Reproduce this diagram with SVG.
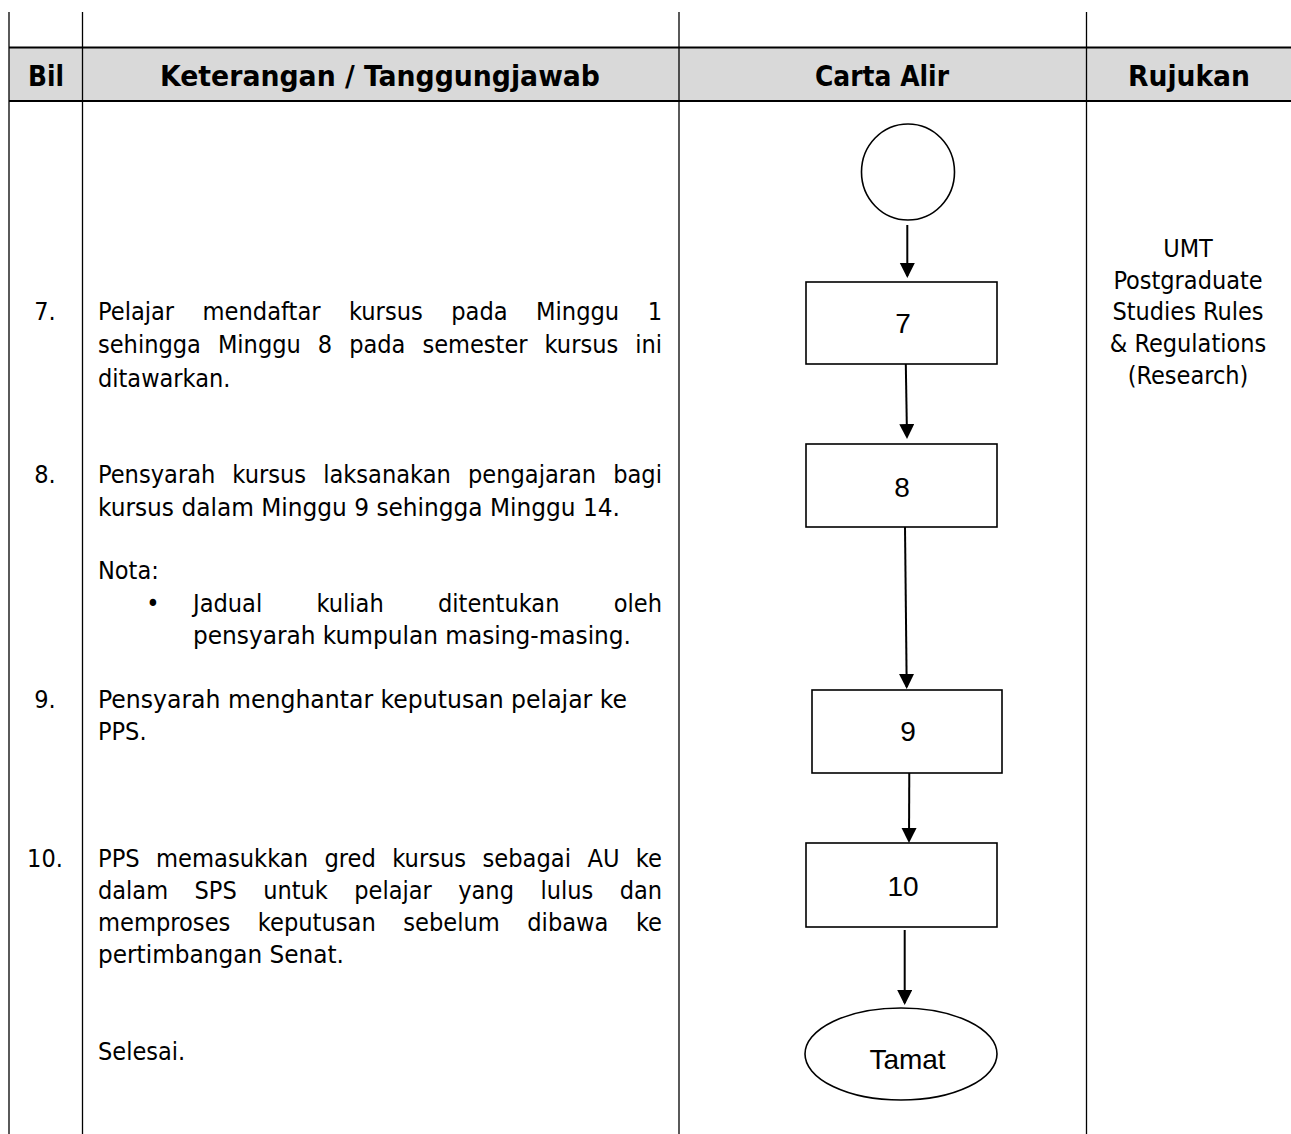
<svg xmlns="http://www.w3.org/2000/svg" width="1291" height="1134" viewBox="0 0 1291 1134">
<style>
.grid{stroke:#000;stroke-width:1.3;fill:none}
.band{fill:#d9d9d9}
.hline{stroke:#000;stroke-width:2}
.hd{font-family:"DejaVu Sans Condensed","DejaVu Sans",sans-serif;font-weight:bold;font-size:28px;fill:#000;text-anchor:middle}
.tx{font-family:"DejaVu Sans Condensed","DejaVu Sans",sans-serif;font-size:25px;fill:#000}
.mid{text-anchor:middle}
.shape{fill:#fff;stroke:#000;stroke-width:1.6}
.lbl{font-family:"Liberation Sans",Arial,sans-serif;font-size:28px;text-anchor:middle;fill:#000}
.conn{stroke:#000;stroke-width:2;fill:none;marker-end:url(#ah)}
</style>
<defs>
<marker id="ah" markerUnits="userSpaceOnUse" markerWidth="16" markerHeight="16" refX="13" refY="7.5" orient="auto">
<path d="M0,0 L15,7.5 L0,15 z" fill="#000"/>
</marker>
</defs>
<rect width="1291" height="1134" fill="#fff"/>
<g id="table">
<rect class="band" x="9" y="47.5" width="1282" height="53.5"/>
<line class="hline" x1="9" y1="47.5" x2="1291" y2="47.5"/>
<line class="hline" x1="9" y1="101" x2="1291" y2="101"/>
<line class="grid" x1="9" y1="12" x2="9" y2="1134"/>
<line class="grid" x1="82.5" y1="12" x2="82.5" y2="1134"/>
<line class="grid" x1="679" y1="12" x2="679" y2="1134"/>
<line class="grid" x1="1086.5" y1="12" x2="1086.5" y2="1134"/>
</g>
<g id="header">
<text class="hd" x="46" y="86" textLength="36" lengthAdjust="spacingAndGlyphs">Bil</text>
<text class="hd" x="380" y="86" textLength="440" lengthAdjust="spacingAndGlyphs">Keterangan / Tanggungjawab</text>
<text class="hd" x="882" y="86" textLength="134" lengthAdjust="spacingAndGlyphs">Carta Alir</text>
<text class="hd" x="1189" y="86" textLength="122" lengthAdjust="spacingAndGlyphs">Rujukan</text>
</g>
<g id="row7">
<text class="tx mid" x="45" y="320">7.</text>
<text class="tx" x="98" y="320" word-spacing="21.2" textLength="564" lengthAdjust="spacingAndGlyphs">Pelajar mendaftar kursus pada Minggu 1</text>
<text class="tx" x="98" y="353" word-spacing="9.8" textLength="564" lengthAdjust="spacingAndGlyphs">sehingga Minggu 8 pada semester kursus ini</text>
<text class="tx" x="98" y="386.5">ditawarkan.</text>
</g>
<g id="row8">
<text class="tx mid" x="45" y="483">8.</text>
<text class="tx" x="98" y="483" word-spacing="9.8" textLength="564" lengthAdjust="spacingAndGlyphs">Pensyarah kursus laksanakan pengajaran bagi</text>
<text class="tx" x="98" y="516" textLength="522" lengthAdjust="spacingAndGlyphs">kursus dalam Minggu 9 sehingga Minggu 14.</text>
<text class="tx" x="98" y="579">Nota:</text>
<text class="tx mid" x="153" y="612">•</text>
<text class="tx" x="193" y="612" word-spacing="47" textLength="469" lengthAdjust="spacingAndGlyphs">Jadual kuliah ditentukan oleh</text>
<text class="tx" x="193" y="644" textLength="438" lengthAdjust="spacingAndGlyphs">pensyarah kumpulan masing-masing.</text>
</g>
<g id="row9">
<text class="tx mid" x="45" y="708">9.</text>
<text class="tx" x="98" y="708" textLength="529" lengthAdjust="spacingAndGlyphs">Pensyarah menghantar keputusan pelajar ke</text>
<text class="tx" x="98" y="740">PPS.</text>
</g>
<g id="row10">
<text class="tx mid" x="45" y="867">10.</text>
<text class="tx" x="98" y="867" word-spacing="9.2" textLength="564" lengthAdjust="spacingAndGlyphs">PPS memasukkan gred kursus sebagai AU ke</text>
<text class="tx" x="98" y="899" word-spacing="19.3" textLength="564" lengthAdjust="spacingAndGlyphs">dalam SPS untuk pelajar yang lulus dan</text>
<text class="tx" x="98" y="931" word-spacing="20.2" textLength="564" lengthAdjust="spacingAndGlyphs">memproses keputusan sebelum dibawa ke</text>
<text class="tx" x="98" y="963" textLength="246" lengthAdjust="spacingAndGlyphs">pertimbangan Senat.</text>
<text class="tx" x="98" y="1060">Selesai.</text>
</g>
<g id="rujukan">
<text class="tx mid" x="1188" y="257">UMT</text>
<text class="tx mid" x="1188" y="288.7">Postgraduate</text>
<text class="tx mid" x="1188" y="320.4">Studies Rules</text>
<text class="tx mid" x="1188" y="352.1">&amp; Regulations</text>
<text class="tx mid" x="1188" y="383.8">(Research)</text>
</g>
<g id="connectors">
<line class="conn" x1="907.3" y1="225" x2="907.3" y2="276"/>
<line class="conn" x1="905.7" y1="358" x2="907" y2="437"/>
<line class="conn" x1="905" y1="527" x2="906.7" y2="687"/>
<line class="conn" x1="909.3" y1="769" x2="909" y2="841"/>
<line class="conn" x1="904.7" y1="930" x2="904.7" y2="1003"/>
</g>
<g id="start">
<ellipse class="shape" cx="908" cy="172" rx="46.5" ry="48"/>
</g>
<g id="node7">
<rect class="shape" x="806" y="282" width="191" height="82"/>
<text class="lbl" x="903" y="333">7</text>
</g>
<g id="node8">
<rect class="shape" x="806" y="444" width="191" height="83"/>
<text class="lbl" x="902" y="497">8</text>
</g>
<g id="node9">
<rect class="shape" x="812" y="690" width="190" height="83"/>
<text class="lbl" x="908" y="741">9</text>
</g>
<g id="node10">
<rect class="shape" x="806" y="843" width="191" height="84"/>
<text class="lbl" x="903" y="896">10</text>
</g>
<g id="end">
<ellipse class="shape" cx="901" cy="1054" rx="96" ry="46"/>
<text class="lbl" x="907.5" y="1069">Tamat</text>
</g>
</svg>
